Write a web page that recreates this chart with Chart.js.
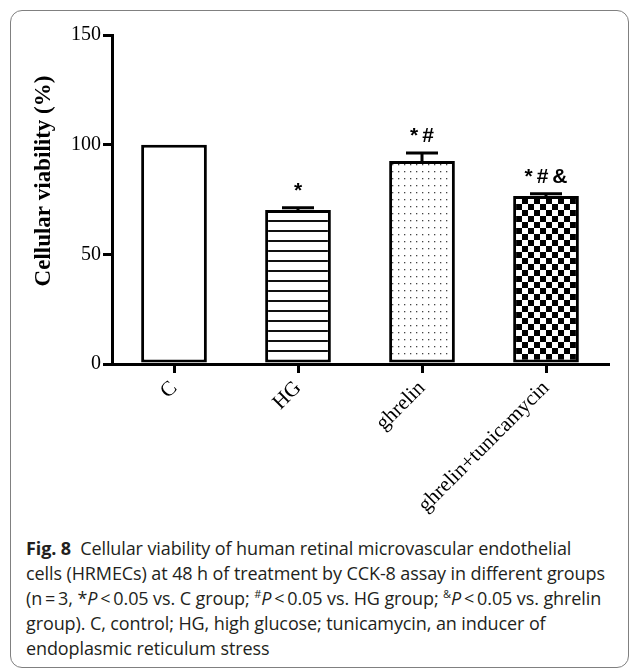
<!DOCTYPE html>
<html>
<head>
<meta charset="utf-8">
<script src="https://cdn.jsdelivr.net/npm/chart.js@4"></script>
<style>
  html, body { margin: 0; padding: 0; background: #fff; }
  body { width: 630px; height: 672px; position: relative; overflow: hidden; }
  #frame {
    position: absolute; left: 10px; top: 10px; width: 617px; height: 656px;
    border: 1.5px solid #808080; border-radius: 12px;
  }
  #chartBox { position: absolute; left: 0; top: 0; width: 630px; height: 535px; }
  #caption {
    position: absolute; left: 26px; top: 536px; width: 610px;
    font-family: "Open Sans", "Noto Sans", sans-serif; font-size: 18px; line-height: 25px;
    color: #231f20; white-space: nowrap; letter-spacing: -0.1px;
  }
  #caption b { font-weight: bold; }
  #caption sup { font-size: 11px; line-height: 0; }
</style>
</head>
<body>
<div id="frame"></div>
<div id="chartBox"><canvas id="myChart"></canvas></div>
<div id="caption">
  <b>Fig. 8</b>&nbsp; Cellular viability of human retinal microvascular endothelial<br>
  cells (HRMECs) at 48 h of treatment by CCK-8 assay in different groups<br>
  (n&thinsp;=&thinsp;3, *<i>P</i>&thinsp;&lt;&thinsp;0.05 vs. C group; <sup>#</sup><i>P</i>&thinsp;&lt;&thinsp;0.05 vs. HG group; <sup>&amp;</sup><i>P</i>&thinsp;&lt;&thinsp;0.05 vs. ghrelin<br>
  group). C, control; HG, high glucose; tunicamycin, an inducer of<br>
  endoplasmic reticulum stress
</div>
<script>
// Chart data
const categories = ['C', 'HG', 'ghrelin', 'ghrelin+tunicamycin'];
const viability = [100, 70.2, 92.6, 76.6];
const errors = [0, 1, 3.6, 1];
const marks = ['', '*', '*#', '*#&'];
const yTicks = [0, 50, 100, 150];

// Build fill patterns for the bars
function makePattern(kind) {
    const c = document.createElement('canvas');
    const g = c.getContext('2d');
    if (kind === 'lines') {
        c.width = 10; c.height = 10;
        g.fillStyle = '#fff'; g.fillRect(0, 0, 10, 10);
        g.fillStyle = '#111'; g.fillRect(0, 0, 10, 2);
    } else if (kind === 'dots') {
        c.width = 6; c.height = 7;
        g.fillStyle = '#fff'; g.fillRect(0, 0, 6, 7);
        g.fillStyle = '#444'; g.fillRect(2, 3, 1.3, 1.3);
    } else if (kind === 'check') {
        c.width = 12; c.height = 12;
        g.fillStyle = '#fff'; g.fillRect(0, 0, 12, 12);
        g.fillStyle = '#000'; g.fillRect(0, 0, 6, 6); g.fillRect(6, 6, 6, 6);
    } else {
        c.width = 4; c.height = 4;
        g.fillStyle = '#fff'; g.fillRect(0, 0, 4, 4);
    }
    return document.createElement('canvas').getContext('2d').createPattern(c, 'repeat');
}
const fills = [makePattern('plain'), makePattern('lines'), makePattern('dots'), makePattern('check')];

// Error bars, significance marks and the y title
const extras = {
    id: 'extras',
    afterDatasetsDraw(chart) {
        const ctx = chart.ctx;
        const x = chart.scales.x;
        const y = chart.scales.y;
        ctx.save();
        ctx.strokeStyle = '#000';
        ctx.lineWidth = 3;
        categories.forEach((cat, i) => {
            const cx = x.getPixelForValue(i);
            const top = y.getPixelForValue(viability[i]);
            const errTop = y.getPixelForValue(viability[i] + errors[i]);
            if (errors[i] > 0) {
                ctx.beginPath();
                ctx.moveTo(cx, top);
                ctx.lineTo(cx, errTop);
                ctx.moveTo(cx - 16, errTop);
                ctx.lineTo(cx + 16, errTop);
                ctx.stroke();
            }
            if (marks[i]) {
                ctx.fillStyle = '#000';
                ctx.font = 'bold 21px "Liberation Sans", Arial, sans-serif';
                ctx.letterSpacing = '4px';
                ctx.textAlign = 'center';
                ctx.textBaseline = 'middle';
                ctx.fillText(marks[i], cx + 2, errTop - 17);
            }
        });
        ctx.letterSpacing = '0px';
        ctx.translate(44, 181);
        ctx.rotate(-Math.PI / 2);
        ctx.font = 'bold 23px "Liberation Serif", "Times New Roman", serif';
        ctx.textAlign = 'center';
        ctx.textBaseline = 'middle';
        ctx.fillStyle = '#000';
        ctx.fillText('Cellular viability (%)', 0, 0);
        ctx.restore();
    }
};

const ctx = document.getElementById('myChart').getContext('2d');
const chart = new Chart(ctx, {
    type: 'bar',
    data: {
        labels: categories,
        datasets: [{
            data: viability,
            backgroundColor: fills,
            borderColor: '#000',
            borderWidth: 3,
            borderSkipped: false,
            categoryPercentage: 1,
            barPercentage: 0.53
        }]
    },
    options: {
        responsive: true,
        maintainAspectRatio: false,
        animation: false,
        layout: { padding: { top: 35, right: 22, left: 0, bottom: 0 } },
        plugins: { legend: { display: false }, tooltip: { enabled: false } },
        scales: {
            x: {
                grid: { offset: false, drawOnChartArea: false, tickLength: 9, lineWidth: 3, color: '#000' },
                border: { color: '#000', width: 3 },
                ticks: {
                    color: '#000', minRotation: 45, maxRotation: 45, padding: 3,
                    font: { family: '"Liberation Serif", "Times New Roman", serif', size: 21 }
                },
                afterFit: s => { s.height = 171; }
            },
            y: {
                min: 0,
                max: 150,
                afterBuildTicks: s => { s.ticks = yTicks.map(v => ({ value: v })); },
                grid: { drawOnChartArea: false, tickLength: 9, lineWidth: 3, color: '#000' },
                border: { color: '#000', width: 3 },
                ticks: {
                    color: '#000', padding: 2,
                    font: { family: '"Liberation Serif", "Times New Roman", serif', size: 20 }
                },
                afterFit: s => { s.width = 112; }
            }
        }
    },
    plugins: [extras]
});
</script>
</body>
</html>
